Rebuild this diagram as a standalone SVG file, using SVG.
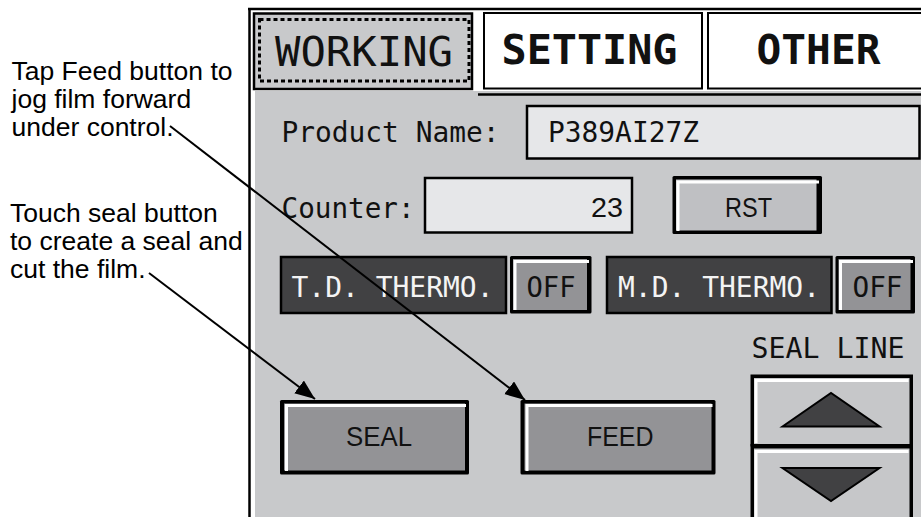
<svg xmlns="http://www.w3.org/2000/svg" width="921" height="517" viewBox="0 0 921 517">
  <style>
    .note { font-family: "Liberation Sans", Arial, sans-serif; font-size: 26.5px; fill: #000; }
    .mono { font-family: "DejaVu Sans Mono", "Liberation Mono", monospace; font-size: 28px; fill: #111; }
    .tab { font-family: "DejaVu Sans Mono", "Liberation Mono", monospace; font-size: 40px; fill: #111; }
    .tabB { font-weight: bold; }
    .lbl { font-family: "Liberation Sans", Arial, sans-serif; font-size: 27.5px; fill: #111; }
    .light { fill: #f4f4f4; }
    .field { fill: #e6e7e9; stroke: #000; stroke-width: 2.5; }
    .dark { fill: #414143; stroke: #000; stroke-width: 2.5; }
    .edge { fill: #000; }
    .hl { fill: none; stroke: #fff; stroke-width: 3; }
    .conn { stroke: #000; stroke-width: 2; fill: none; marker-end: url(#head); }
  </style>
  <defs>
    <marker id="head" markerUnits="userSpaceOnUse" markerWidth="22" markerHeight="18" refX="20" refY="8" orient="auto">
      <path d="M0,0 L20,8 L0,16 Z" fill="#000"/>
    </marker>
  </defs>

  <rect width="921" height="517" fill="#fff"/>

  <!-- screen frame and panel -->
  <g id="screen">
    <rect x="255" y="91" width="666" height="426" fill="#c8c9cb"/>
    <line x1="249.5" y1="8" x2="249.5" y2="517" stroke="#000" stroke-width="2.5"/>
    <line x1="248" y1="9" x2="921" y2="9" stroke="#000" stroke-width="2.5"/>
    <line x1="478" y1="94.5" x2="921" y2="94.5" stroke="#000" stroke-width="2.5"/>
  </g>

  <!-- tabs -->
  <g id="tab-working">
    <rect x="254" y="13.5" width="218" height="75.5" fill="#c8c9cb" stroke="#000" stroke-width="2.5"/>
    <rect x="259.5" y="19.5" width="209.5" height="61.5" fill="none" stroke="#000" stroke-width="3" stroke-dasharray="4 3"/>
    <text class="tab" x="275" y="65.5" textLength="178" lengthAdjust="spacingAndGlyphs">WORKING</text>
  </g>
  <g id="tab-setting">
    <rect x="484" y="13" width="218" height="75.5" fill="#fff" stroke="#000" stroke-width="2"/>
    <text class="tab tabB" x="501.5" y="63.5" textLength="176" lengthAdjust="spacingAndGlyphs">SETTING</text>
  </g>
  <g id="tab-other">
    <rect x="708" y="13" width="220" height="75.5" fill="#fff" stroke="#000" stroke-width="2"/>
    <text class="tab tabB" x="756.5" y="63.5" textLength="124" lengthAdjust="spacingAndGlyphs">OTHER</text>
  </g>

  <!-- product name -->
  <g id="product-name">
    <text class="mono" x="281.5" y="141.5" textLength="218" lengthAdjust="spacingAndGlyphs">Product Name:</text>
    <rect class="field" x="527" y="106" width="392.5" height="52.5"/>
    <text class="mono" x="548" y="141.5" textLength="151" lengthAdjust="spacingAndGlyphs">P389AI27Z</text>
  </g>

  <!-- counter -->
  <g id="counter">
    <text class="mono" x="281.5" y="218" textLength="133" lengthAdjust="spacingAndGlyphs">Counter:</text>
    <rect class="field" x="425" y="178" width="207" height="54.5"/>
    <text class="lbl" x="591" y="216.5" textLength="32" lengthAdjust="spacingAndGlyphs">23</text>
  </g>

  <!-- reset button -->
  <g id="btn-rst">
    <rect class="edge" x="672.5" y="176" width="149.5" height="58" rx="1.5"/>
    <rect x="676" y="179.5" width="140.5" height="51" fill="#bfc0c3"/>
    <path class="hl" d="M678 231 V182 H819"/>
    <text class="lbl" x="725" y="217" textLength="47" lengthAdjust="spacingAndGlyphs">RST</text>
  </g>

  <!-- thermo rows -->
  <g id="td-thermo">
    <rect class="dark" x="281" y="257" width="225" height="56"/>
    <text class="mono light" x="291.5" y="297" textLength="202" lengthAdjust="spacingAndGlyphs">T.D. THERMO.</text>
  </g>
  <g id="btn-td-off">
    <rect class="edge" x="510" y="256" width="81.5" height="57.5" rx="1.5"/>
    <rect x="513" y="259" width="74" height="51" fill="#939396"/>
    <path class="hl" d="M515 310 V261.5 H589"/>
    <text class="mono" x="526.5" y="297" textLength="49" lengthAdjust="spacingAndGlyphs">OFF</text>
  </g>
  <g id="md-thermo">
    <rect class="dark" x="607" y="257" width="224.5" height="56"/>
    <text class="mono light" x="618" y="297" textLength="202" lengthAdjust="spacingAndGlyphs">M.D. THERMO.</text>
  </g>
  <g id="btn-md-off">
    <rect class="edge" x="835.5" y="256" width="79.5" height="57.5" rx="1.5"/>
    <rect x="838.5" y="259" width="72" height="51" fill="#939396"/>
    <path class="hl" d="M840.5 310 V261.5 H913"/>
    <text class="mono" x="852.5" y="297" textLength="50" lengthAdjust="spacingAndGlyphs">OFF</text>
  </g>

  <!-- seal / feed buttons -->
  <g id="btn-seal">
    <rect class="edge" x="280" y="400" width="189" height="74.5" rx="1.5"/>
    <rect x="284" y="403.5" width="181" height="67" fill="#939396"/>
    <path class="hl" d="M286.5 471 V405.5 H466"/>
    <text class="lbl" x="346" y="445.5" textLength="66" lengthAdjust="spacingAndGlyphs">SEAL</text>
  </g>
  <g id="btn-feed">
    <rect class="edge" x="520.5" y="400" width="195" height="74.5" rx="1.5"/>
    <rect x="524.5" y="403.5" width="187" height="67" fill="#939396"/>
    <path class="hl" d="M527 471 V405.5 H712.5"/>
    <text class="lbl" x="587" y="445.5" textLength="66.5" lengthAdjust="spacingAndGlyphs">FEED</text>
  </g>

  <!-- seal line adjust -->
  <g id="seal-line">
    <text class="mono" x="751.5" y="358" font-size="24" textLength="153" lengthAdjust="spacingAndGlyphs">SEAL LINE</text>
  </g>
  <g id="btn-up">
    <rect class="edge" x="750.5" y="374.5" width="162.5" height="72"/>
    <rect x="754" y="378" width="155.5" height="66" fill="#c6c7c9"/>
    <path class="hl" d="M756 443 V380.5 H908.5"/>
    <polygon points="782.5,426.5 831,393 879.5,426.5" fill="#414143" stroke="#000" stroke-width="2"/>
  </g>
  <g id="btn-down">
    <rect class="edge" x="750.5" y="444" width="162.5" height="76"/>
    <rect x="754" y="448.5" width="155.5" height="75" fill="#c6c7c9"/>
    <path class="hl" d="M756 517 V451.5 H908.5"/>
    <polygon points="782.5,468 879.5,468 831,501" fill="#414143" stroke="#000" stroke-width="2"/>
  </g>

  <!-- callout notes -->
  <g id="note-feed">
    <text class="note" x="11.5" y="80">Tap Feed button to</text>
    <text class="note" x="11.5" y="108">jog film forward</text>
    <text class="note" x="11.5" y="136">under control.</text>
  </g>
  <g id="note-seal">
    <text class="note" x="10" y="222">Touch seal button</text>
    <text class="note" x="10" y="250">to create a seal and</text>
    <text class="note" x="10" y="278">cut the film.</text>
  </g>

  <!-- connectors -->
  <g id="connectors">
    <line class="conn" x1="170" y1="126" x2="525" y2="400"/>
    <line class="conn" x1="149" y1="273" x2="315" y2="399"/>
  </g>
</svg>
